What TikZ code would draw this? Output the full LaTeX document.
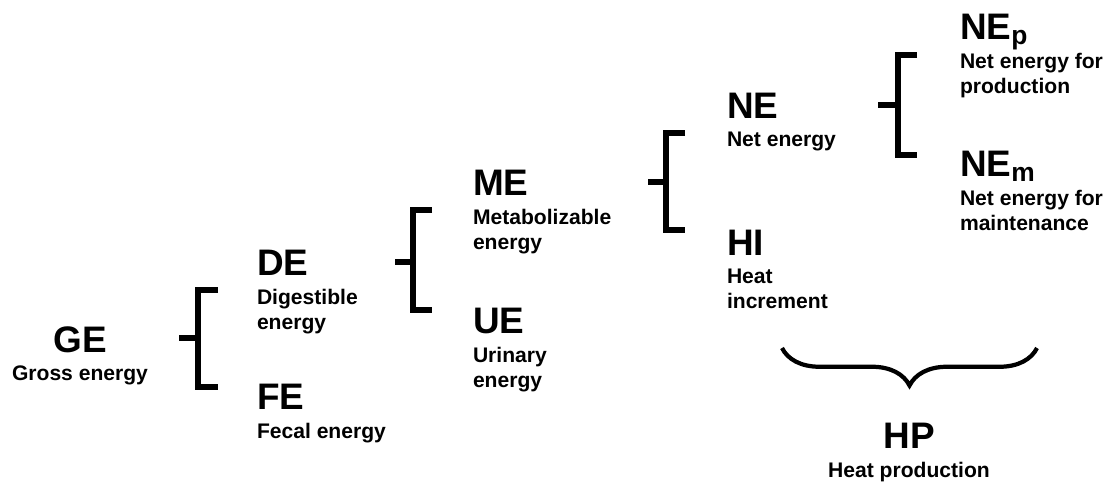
\documentclass[tikz,border=0pt]{standalone}
\usepackage{fontspec}
\setmainfont{Liberation Sans}
\usetikzlibrary{positioning,decorations.pathreplacing}
\tikzset{
    abbr/.style={font=\fontsize{21}{21}\selectfont\bfseries,inner sep=0pt,outer sep=0pt,anchor=base west},
    expl/.style={font=\fontsize{12}{14.2}\selectfont\bfseries,inner sep=0pt,outer sep=0pt,align=left},
    under/.style={below=2.8mm of #1.base west,anchor=north west},
    bracket/.style={line width=3.3pt},
    hpbrace/.style={line width=2.4pt,decorate,decoration={brace,amplitude=0.75cm}},
}
\newcommand{\subidx}[1]{\raisebox{-3pt}{\fontsize{15}{15}\selectfont #1}}

\begin{document}
\begin{tikzpicture}[x=0.2mm,y=-0.2mm]
        \useasboundingbox (0,0) rectangle (1110,482);
        % energy terms
        \node[abbr,anchor=base] (ge) at (80,352) {GE};
        \node[expl,below=2.8mm of ge.base,anchor=north,align=center] (ge-txt) {Gross energy};
        \node[abbr] (de) at (257,275) {DE};
        \node[expl,under=de] (de-txt) {Digestible\\energy};
        \node[abbr] (fe) at (257,409) {FE};
        \node[expl,under=fe] (fe-txt) {Fecal energy};
        \node[abbr] (me) at (473,195) {ME};
        \node[expl,under=me] (me-txt) {Metabolizable\\energy};
        \node[abbr] (ue) at (473,333) {UE};
        \node[expl,under=ue] (ue-txt) {Urinary\\energy};
        \node[abbr] (ne) at (727,118) {NE};
        \node[expl,under=ne] (ne-txt) {Net energy};
        \node[abbr] (hi) at (727,255) {HI};
        \node[expl,under=hi] (hi-txt) {Heat\\increment};
        \node[abbr] (nep) at (960,39) {NE\subidx{p}};
        \node[expl,under=nep] (nep-txt) {Net energy for\\production};
        \node[abbr] (nem) at (960,176) {NE\subidx{m}};
        \node[expl,under=nem] (nem-txt) {Net energy for\\maintenance};
        \node[abbr,anchor=base] (hp) at (909,448) {HP};
        \node[expl,below=2.8mm of hp.base,anchor=north,align=center] (hp-txt) {Heat production};
        % splitting brackets
        \draw[bracket] (218,290) -| (198,387) -- (218,387);
        \draw[bracket] (179,338) -- (198,338);
        \draw[bracket] (432,210) -| (413,310) -- (432,310);
        \draw[bracket] (395,262) -- (413,262);
        \draw[bracket] (685,133) -| (666,230) -- (685,230);
        \draw[bracket] (648,182) -- (666,182);
        \draw[bracket] (917,55) -| (898,155) -- (917,155);
        \draw[bracket] (878,105) -- (898,105);
        % heat production
        \draw[hpbrace] (1037,348) -- (782,348);
\end{tikzpicture}
\end{document}
